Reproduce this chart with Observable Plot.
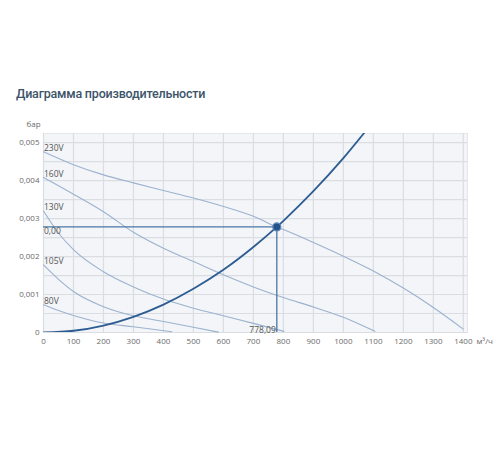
<!DOCTYPE html>
<html>
<head>
<meta charset="utf-8">
<script src="https://cdn.jsdelivr.net/npm/d3@7"></script>
<script src="https://cdn.jsdelivr.net/npm/@observablehq/plot@0.6"></script>
<style>
  html, body { margin: 0; padding: 0; background: #ffffff; }
  #wrap { position: relative; width: 500px; height: 450px; }
  #title { position: absolute; left: 16px; top: 86px; font-family: Roboto, "Open Sans", sans-serif; font-size: 12.5px; line-height: 15px; letter-spacing: -0.2px; font-weight: 500; color: #3d5469; white-space: nowrap; }
  #chart { position: absolute; left: 0; top: 0; }
</style>
</head>
<body>
<div id="wrap">
  <div id="chart"></div>
  <div id="title">Диаграмма производительности</div>
</div>
<script>
// Flow values (м³/ч) and pressure values (бар)
const flow230 = [0, 100, 200, 300, 400, 500, 600, 700, 778.09, 800, 900, 1000, 1100, 1200, 1300, 1400];
const p230    = [0.00476, 0.00442, 0.00415, 0.00394, 0.00374, 0.00354, 0.00332, 0.00306, 0.00278, 0.00271, 0.00237, 0.00201, 0.00162, 0.00117, 0.00066, 0.00009];

const flow160 = [0, 100, 200, 300, 400, 500, 600, 700, 800, 900, 1000, 1105];
const p160    = [0.00408, 0.00364, 0.00318, 0.00264, 0.00222, 0.00187, 0.00152, 0.00120, 0.00092, 0.00067, 0.00040, 0.00003];

const flow130 = [0, 50, 100, 200, 300, 400, 500, 600, 700, 802];
const p130    = [0.00320, 0.00262, 0.00218, 0.00160, 0.00120, 0.00088, 0.00064, 0.00044, 0.00024, 0.00003];

const flow105 = [0, 50, 100, 200, 300, 400, 500, 583];
const p105    = [0.00178, 0.00140, 0.00108, 0.00068, 0.00044, 0.00029, 0.00014, 0.00001];

const flow80  = [0, 50, 100, 200, 300, 428];
const p80     = [0.00073, 0.00058, 0.00045, 0.00025, 0.00015, 0.00002];

const flowSys = [0, 100, 200, 300, 400, 500, 600, 700, 778.09, 800, 900, 1000, 1070];
const pSys    = [0, 0.000046, 0.000184, 0.000413, 0.000734, 0.00115, 0.00165, 0.00225, 0.00278, 0.00294, 0.00372, 0.00459, 0.00526];

const seriesNames = ["230V", "160V", "130V", "105V", "80V"];
const opFlow = 778.09;
const opPressure = 0.00278;
const opFlowLabel = "778,09";
const opPressureLabel = "0,00";

const xTicks = [0, 100, 200, 300, 400, 500, 600, 700, 800, 900, 1000, 1100, 1200, 1300, 1400];
const yTicks = [0, 0.001, 0.002, 0.003, 0.004, 0.005];
const yGrid  = [0, 0.0005, 0.001, 0.0015, 0.002, 0.0025, 0.003, 0.0035, 0.004, 0.0045, 0.005];
const yTickLabels = ["0", "0,001", "0,002", "0,003", "0,004", "0,005"];
const yUnit = "бар";
const xUnit = "м³/ч";

// Build tables from arrays
const seriesFlows = [flow230, flow160, flow130, flow105, flow80];
const seriesPressures = [p230, p160, p130, p105, p80];
const fanData = [];
seriesNames.forEach((name, i) => {
  seriesFlows[i].forEach((f, j) => fanData.push({series: name, flow: f, p: seriesPressures[i][j]}));
});
const fanStarts = seriesNames.map((name, i) => ({series: name, flow: seriesFlows[i][0], p: seriesPressures[i][0]}));
const sysData = flowSys.map((f, i) => ({flow: f, p: pSys[i]}));

const font = "'Open Sans', sans-serif";
const chart = Plot.plot({
  width: 500,
  height: 450,
  marginLeft: 43,
  marginRight: 33,
  marginTop: 133,
  marginBottom: 118,
  style: {fontFamily: font, fontSize: "8px", color: "#6a6a6a", background: "transparent"},
  x: {domain: [0, 1414], axis: null},
  y: {domain: [0, 0.00524], axis: null},
  marks: [
    Plot.frame({fill: "#f3f5f8", stroke: "#e4e7eb"}),
    Plot.ruleX(xTicks, {stroke: "#dadde2", strokeWidth: 1.2}),
    Plot.ruleY(yGrid, {stroke: "#dadde2", strokeWidth: 1.2}),
    Plot.line(fanData, {x: "flow", y: "p", z: "series", stroke: "#9cb2cf", strokeWidth: 1.1, curve: "monotone-x"}),
    Plot.ruleY([opPressure], {x1: 0, x2: opFlow, stroke: "#4a76a6", strokeWidth: 1.3}),
    Plot.ruleX([opFlow], {y1: 0, y2: opPressure, stroke: "#4a76a6", strokeWidth: 1.3}),
    Plot.line(sysData, {x: "flow", y: "p", stroke: "#2c5c92", strokeWidth: 1.8, curve: "monotone-x", clip: true}),
    Plot.dot([{flow: opFlow, p: opPressure}], {x: "flow", y: "p", r: 4, fill: "#23538a", stroke: "#5f88b8", strokeWidth: 1.2}),
    Plot.text(fanStarts, {x: "flow", y: "p", text: "series", textAnchor: "start", lineAnchor: "bottom", dx: 0.5, dy: -1, fill: "#555", fontSize: 8.5}),
    Plot.text([{flow: 0, p: opPressure}], {x: "flow", y: "p", text: () => opPressureLabel, textAnchor: "start", lineAnchor: "top", dx: 0.5, dy: 1, fill: "#555", fontSize: 8.5}),
    Plot.text([{flow: opFlow, p: 0}], {x: "flow", y: "p", text: () => opFlowLabel, textAnchor: "end", lineAnchor: "bottom", dx: -1, dy: 0, fill: "#555", fontSize: 8.5}),
    Plot.axisX(xTicks, {tickSize: 0, tickPadding: 6, tickFormat: d => String(d), fill: "#6a6a6a", fontSize: 8, label: null}),
    Plot.axisY(yTicks, {tickSize: 0, tickPadding: 4, tickFormat: (d, i) => yTickLabels[yTicks.indexOf(d)], fill: "#6a6a6a", fontSize: 8, label: null}),
    Plot.text([yUnit], {frameAnchor: "top-left", text: d => d, textAnchor: "start", dx: -17, dy: -12, fill: "#6a6a6a", fontSize: 8}),
    Plot.text([xUnit], {frameAnchor: "bottom-right", text: d => d, textAnchor: "start", dx: 9, dy: 11, fill: "#6a6a6a", fontSize: 8})
  ]
});
document.getElementById("chart").appendChild(chart);
</script>
</body>
</html>
